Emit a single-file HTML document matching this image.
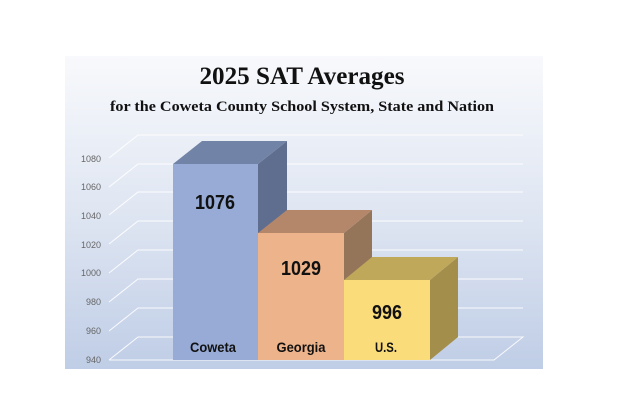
<!DOCTYPE html>
<html><head><style>
html,body{margin:0;padding:0;background:#fff;}
svg{display:block;}
</style></head><body>
<svg width="620" height="420" viewBox="0 0 620 420" xmlns="http://www.w3.org/2000/svg" font-family="Liberation Sans, sans-serif">
<defs>
<linearGradient id="bg" x1="0" y1="0" x2="0" y2="1">
<stop offset="0" stop-color="#f8f9fc"/>
<stop offset="0.5" stop-color="#dfe6f2"/>
<stop offset="1" stop-color="#bfcde6"/>
</linearGradient>
</defs>
<rect x="65" y="56" width="478" height="313" fill="url(#bg)"/>
<text x="302" y="84" text-anchor="middle" font-family="Liberation Serif, serif" font-weight="bold" font-size="25" textLength="205" lengthAdjust="spacingAndGlyphs" fill="#111">2025 SAT Averages</text>
<text x="302" y="111" text-anchor="middle" font-family="Liberation Serif, serif" font-weight="bold" font-size="15" textLength="384" lengthAdjust="spacingAndGlyphs" fill="#111">for the Coweta County School System, State and Nation</text>
<g stroke="#ffffff" stroke-width="1" fill="none" opacity="0.9">
<polyline points="109,360 138,337 523,337 494,360 109,360"/>
<polyline points="109,331 138,308 523,308"/>
<polyline points="109,302 138,279 523,279"/>
<polyline points="109,273 138,250 523,250"/>
<polyline points="109,244 138,221 523,221"/>
<polyline points="109,215 138,192 523,192"/>
<polyline points="109,187 138,164 523,164"/>
<polyline points="109,158 138,135 523,135"/>
</g>
<g font-size="9" fill="#666" text-anchor="end">
<text x="101" y="363">940</text>
<text x="101" y="334">960</text>
<text x="101" y="305">980</text>
<text x="101" y="276">1000</text>
<text x="101" y="248">1020</text>
<text x="101" y="219">1040</text>
<text x="101" y="190">1060</text>
<text x="101" y="162">1080</text>
</g>
<!-- Coweta -->
<polygon points="258,164 287,141 287,337 258,360" fill="#5f6e8e"/>
<polygon points="173,164 202,141 287,141 258,164" fill="#7183a6"/>
<rect x="173" y="164" width="85" height="196" fill="#97abd6"/>
<!-- Georgia -->
<polygon points="344,233 372,210 372,337 344,360" fill="#957559"/>
<polygon points="258,233 287,210 372,210 344,233" fill="#b4866a"/>
<rect x="258" y="233" width="86" height="127" fill="#edb38a"/>
<!-- US -->
<polygon points="430,280 458,257 458,337 430,360" fill="#a38e4b"/>
<polygon points="344,280 372,257 458,257 430,280" fill="#c0a85b"/>
<rect x="344" y="280" width="86" height="80" fill="#fbdc7a"/>
<g font-weight="bold" fill="#111" text-anchor="middle">
<text x="215" y="209" font-size="20" textLength="40" lengthAdjust="spacingAndGlyphs">1076</text>
<text x="301" y="275" font-size="20" textLength="40" lengthAdjust="spacingAndGlyphs">1029</text>
<text x="387" y="319" font-size="20" textLength="30" lengthAdjust="spacingAndGlyphs">996</text>
<text x="213" y="352" font-size="14" textLength="46" lengthAdjust="spacingAndGlyphs">Coweta</text>
<text x="301" y="352" font-size="14" textLength="49" lengthAdjust="spacingAndGlyphs">Georgia</text>
<text x="386" y="352" font-size="14" textLength="22" lengthAdjust="spacingAndGlyphs">U.S.</text>
</g>
</svg>
</body></html>
